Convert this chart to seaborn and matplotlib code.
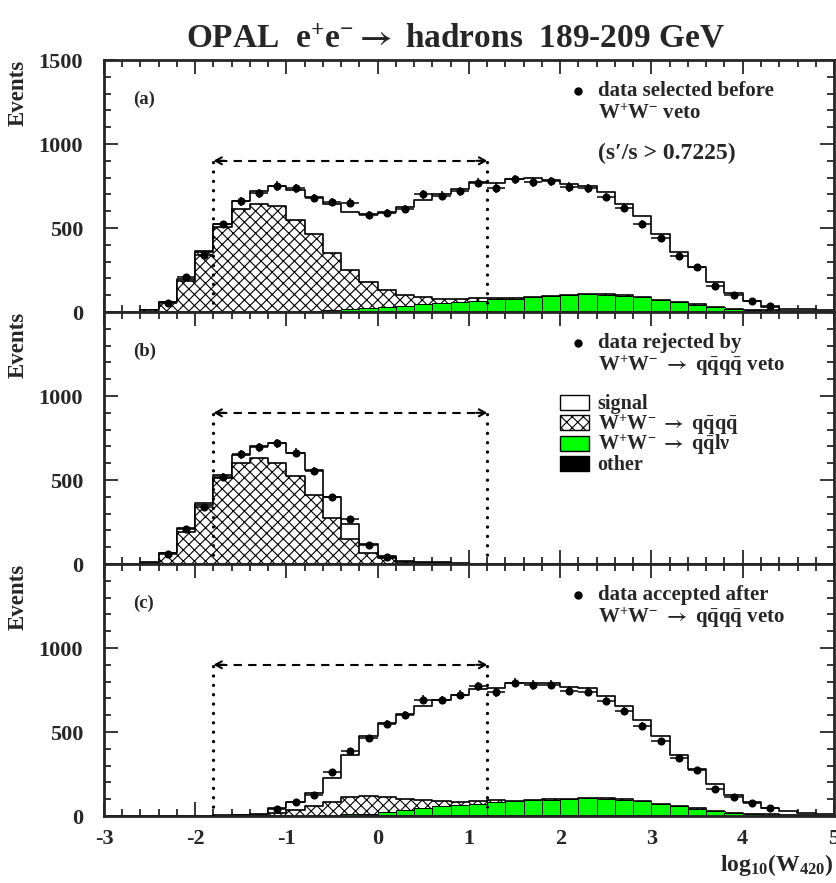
import numpy as np
import pandas as pd
import matplotlib
matplotlib.use("Agg")
import matplotlib.pyplot as plt
from matplotlib.ticker import MultipleLocator, FixedLocator, FixedFormatter, NullFormatter
import seaborn as sns

nan = np.nan

# ---- binning: log10(W420) from -3 to 5 in steps of 0.2 ----
bin_edges = np.round(np.linspace(-3.0, 5.0, 41), 2)
bin_centres = np.round(bin_edges[:-1] + 0.1, 2)

# ---- (a) all selected events ----
a_signal = [0, 2, 2, 2, 8, 6, 19, 50, 79, 119, 180, 223, 295, 344, 408, 464, 524, 577, 622, 658,
            692, 686, 708, 710, 691, 661, 640, 608, 545, 479, 392, 296, 221, 151, 93, 54, 23, 14, 12, 8]
a_qqqq = [0, 0, 10, 60, 187, 356, 506, 611, 641, 626, 544, 454, 338, 233, 153, 99, 63, 40, 22, 16,
          14, 6, 4, 2, 1, 2, 1, 2, 2, 2, 2, 2, 2, 2, 2, 2, 1, 1, 1, 0]
a_qqlv = [0, 0, 0, 0, 0, 0, 0, 0, 0, 3, 4, 7, 10, 16, 21, 29, 35, 45, 52, 56,
          64, 72, 76, 83, 91, 96, 102, 99, 94, 84, 69, 55, 42, 26, 17, 11, 7, 5, 3, 2]
a_other = [0, 0, 0, 0, 0, 0, 0, 0, 0, 0, 1, 1, 2, 2, 3, 3, 3, 3, 4, 4,
           4, 4, 4, 5, 5, 5, 5, 5, 4, 4, 3, 3, 2, 2, 1, 1, 1, 0, 0, 0]
a_data = [nan, nan, nan, 54, 211, 340, 521, 659, 708, 750, 736, 679, 655, 651, 577, 589, 613, 702, 692, 720,
          770, 738, 790, 774, 778, 744, 736, 685, 621, 525, 442, 336, 267, 155, 103, 68, 34, nan, nan, nan]

# ---- (b) events rejected by the WW->qqqq veto ----
b_signal = [0, 2, 2, 0, 19, 14, 20, 46, 73, 115, 139, 149, 129, 89, 54, 16, 8, 8, 6, 2,
            0, 0, 0, 0, 0, 0, 0, 0, 0, 0, 0, 0, 0, 0, 0, 0, 0, 0, 0, 0]
b_qqqq = [0, 0, 8, 63, 193, 351, 510, 603, 629, 603, 524, 411, 272, 145, 61, 32, 10, 4, 3, 2,
          0, 0, 0, 0, 0, 0, 0, 0, 0, 0, 0, 0, 0, 0, 0, 0, 0, 0, 0, 0]
b_qqlv = [0, 0, 0, 0, 0, 0, 0, 0, 0, 0, 0, 0, 0, 2, 2, 2, 2, 2, 1, 0,
          0, 0, 0, 0, 0, 0, 0, 0, 0, 0, 0, 0, 0, 0, 0, 0, 0, 0, 0, 0]
b_other = [0] * 40
b_data = [nan, nan, nan, 58, 208, 341, 520, 653, 694, 718, 663, 556, 397, 270, 115, 44, nan, nan, nan, nan,
          nan, nan, nan, nan, nan, nan, nan, nan, nan, nan, nan, nan, nan, nan, nan, nan, nan, nan, nan, nan]

# ---- (c) events accepted after the WW->qqqq veto ----
c_signal = [0, 0, 0, 0, 0, 0, 2, 3, 5, 27, 44, 77, 148, 245, 355, 438, 505, 555, 604, 636,
            666, 671, 698, 698, 690, 666, 652, 611, 558, 483, 401, 306, 232, 159, 104, 68, 40, 22, 16, 8]
c_qqqq = [0, 0, 0, 0, 0, 0, 2, 3, 5, 18, 37, 57, 75, 106, 106, 90, 69, 52, 30, 20,
          18, 12, 5, 3, 2, 2, 2, 2, 2, 2, 2, 2, 2, 2, 2, 1, 1, 1, 1, 0]
c_qqlv = [0, 0, 0, 0, 0, 0, 0, 0, 0, 0, 0, 0, 4, 8, 11, 23, 32, 42, 53, 61,
          67, 77, 83, 88, 93, 97, 101, 99, 93, 84, 69, 55, 42, 26, 17, 11, 7, 5, 3, 2]
c_other = [0, 0, 0, 0, 0, 0, 0, 0, 0, 0, 0, 0, 2, 2, 3, 3, 3, 3, 4, 4,
           4, 4, 4, 5, 5, 5, 5, 5, 4, 4, 3, 3, 2, 2, 1, 1, 1, 0, 0, 0]
c_data = [nan, nan, nan, nan, nan, nan, nan, nan, nan, 42, 82, 124, 264, 384, 463, 548, 601, 691, 690, 723,
          772, 737, 794, 780, 782, 745, 741, 686, 626, 534, 445, 345, 274, 160, 114, 75, 45, nan, nan, nan]

# W420 cut window and arrow level
cut_low, cut_high, cut_level = -1.8, 1.2, 900

ARROW = r"$\mathsf{\rightarrow}$"
panel_tags = ["(a)", "(b)", "(c)"]
data_captions = [
    ["data selected before", r"W$^{+}$W$^{-}$ veto"],
    ["data rejected by", r"W$^{+}$W$^{-}$ " + ARROW + r" q$\bar{\rm q}$q$\bar{\rm q}$ veto"],
    ["data accepted after", r"W$^{+}$W$^{-}$ " + ARROW + r" q$\bar{\rm q}$q$\bar{\rm q}$ veto"],
]
legend_labels = ["signal",
                 r"W$^{+}$W$^{-}$ " + ARROW + r" q$\bar{\rm q}$q$\bar{\rm q}$",
                 r"W$^{+}$W$^{-}$ " + ARROW + r" q$\bar{\rm q}$lν",
                 "other"]
title_text = r"OPAL  e$^{+}$e$^{-}$" + ARROW + " hadrons  189-209 GeV"
GREEN = "#00ff00"

sns.set_style("ticks")
plt.rcParams.update({
    "font.family": ["Liberation Serif", "DejaVu Serif"],
    "font.weight": "bold",
    "mathtext.fontset": "custom",
    "mathtext.rm": "Liberation Serif:bold",
    "mathtext.bf": "Liberation Serif:bold",
    "mathtext.it": "Liberation Serif:bold:italic",
    "mathtext.sf": "STIXGeneral:bold",
    "mathtext.default": "rm",
    "axes.unicode_minus": False,
    "hatch.linewidth": 0.8,
    "hatch.color": "black",
    "axes.linewidth": 2.0,
})

fig = plt.figure(figsize=(8.37, 8.83), dpi=100)
W, H = 837.0, 883.0
x0, x1 = 104 / W, 834 / W
panel_h = 252 / H
bottom_c = 1 - 816 / H
axes = [fig.add_axes([x0, bottom_c + (2 - i) * panel_h, x1 - x0, panel_h]) for i in range(3)]

panels = [
    (a_signal, a_qqqq, a_qqlv, a_other, a_data),
    (b_signal, b_qqqq, b_qqlv, b_other, b_data),
    (c_signal, c_qqqq, c_qqlv, c_other, c_data),
]

edge_list = [float(e) for e in bin_edges]
TXT = 15

for i, (ax, (sig, q4, q2, oth, dat)) in enumerate(zip(axes, panels)):
    sig, q4, q2, oth = (np.asarray(v, float) for v in (sig, q4, q2, oth))
    dat = np.asarray(dat, float)
    stacks = [
        (oth + q2 + q4 + sig, "step", "white", None),
        (oth + q2 + q4, "step", "white", "xxx"),
        (oth + q2, "bars", GREEN, None),
        (oth, "bars", "black", None),
    ]
    for heights, element, colour, hatch in stacks:
        frame = pd.DataFrame({"w420": bin_centres, "events": heights})
        sns.histplot(data=frame, x="w420", weights="events", bins=edge_list, element=element,
                     fill=True, color=colour, edgecolor="black",
                     linewidth=1.2 if element == "step" else 0.7, alpha=1, ax=ax)
        if hatch:
            ax.collections[-1].set_hatch(hatch)

    # cut window: dotted verticals and dashed double arrow
    for xc in (cut_low, cut_high):
        ax.plot([xc, xc], [0, cut_level], color="black", lw=2.4,
                linestyle=(0, (0.01, 2.8)), dash_capstyle="round", zorder=4)
    ax.plot([cut_low + 0.06, cut_high - 0.06], [cut_level, cut_level], color="black",
            lw=1.5, linestyle=(0, (4, 3)), zorder=4)
    for tip, tail in ((cut_low, cut_low + 0.12), (cut_high, cut_high - 0.12)):
        ax.annotate("", xy=(tip, cut_level), xytext=(tail, cut_level),
                    arrowprops=dict(arrowstyle="->,head_length=0.45,head_width=0.25",
                                    lw=1.5, color="black", shrinkA=0, shrinkB=0),
                    zorder=4)

    # data points with errors
    ok = ~np.isnan(dat)
    ax.errorbar(bin_centres[ok], dat[ok], xerr=0.1, yerr=np.sqrt(dat[ok]), fmt="none",
                ecolor="black", elinewidth=1.1, capsize=0, zorder=5)
    pts = pd.DataFrame({"w420": bin_centres[ok], "events": dat[ok]})
    sns.scatterplot(data=pts, x="w420", y="events", color="black", s=34, edgecolor="black",
                    linewidth=0, ax=ax, zorder=6)

    # axes styling
    ax.set_xlim(-3, 5)
    ax.set_ylim(0, 1500)
    ax.set_xlabel("")
    ax.set_ylabel("")
    ax.xaxis.set_major_locator(MultipleLocator(1))
    ax.xaxis.set_minor_locator(MultipleLocator(0.2))
    ax.yaxis.set_major_locator(FixedLocator([0, 500, 1000, 1500]))
    ax.yaxis.set_minor_locator(MultipleLocator(100))
    ax.yaxis.set_major_formatter(FixedFormatter(["0", "500", "1000", "1500" if i == 0 else ""]))
    ax.tick_params(which="both", direction="in", top=True, right=True, width=1.1, color="black")
    ax.tick_params(which="major", length=10)
    ax.tick_params(which="minor", length=5)
    ax.tick_params(axis="y", labelsize=16, pad=15)
    ax.tick_params(axis="x", labelsize=16, pad=9)
    if i < 2:
        ax.xaxis.set_major_formatter(NullFormatter())
    for sp in ax.spines.values():
        sp.set_linewidth(2.0)
        sp.set_visible(True)
    for lab in ax.get_xticklabels() + ax.get_yticklabels():
        lab.set_fontweight("bold")

    ax.text(-2.68, 1268, panel_tags[i], fontsize=13.5, ha="left", va="center")

    # data caption with marker
    ax.plot([2.2], [1315], "o", color="black", ms=5, zorder=6)
    ax.text(2.41, 1315, data_captions[i][0], fontsize=TXT, ha="left", va="center")
    ax.text(2.41, 1180, data_captions[i][1], fontsize=TXT, ha="left", va="center")

    fig.text(18 / W, 1 - (60 + i * 252) / H, "Events", rotation=90, fontsize=16.5,
             ha="center", va="top")

# selection note in (a)
axes[0].text(2.41, 945, "(s′/s > 0.7225)", fontsize=17, ha="left", va="center")

# legend boxes in (b)
axb = axes[1]
box_rows = [960, 840, 718, 598]
styles = [dict(facecolor="white"), dict(facecolor="white", hatch="xxx"),
          dict(facecolor=GREEN), dict(facecolor="black")]
for yc, st, lab in zip(box_rows, styles, legend_labels):
    axb.add_patch(plt.Rectangle((2.0, yc - 44), 0.31, 88, edgecolor="black", lw=1.0,
                                zorder=6, **st))
    axb.text(2.41, yc - 40, lab, fontsize=14.5, ha="left", va="baseline")

fig.text(455 / W, 1 - 48 / H, title_text, fontsize=24, ha="center", va="baseline")
fig.text(833 / W, 1 - 871 / H, r"log$_{10}$(W$_{420}$)", fontsize=17, ha="right", va="baseline")

fig.savefig("out.png", dpi=100)
